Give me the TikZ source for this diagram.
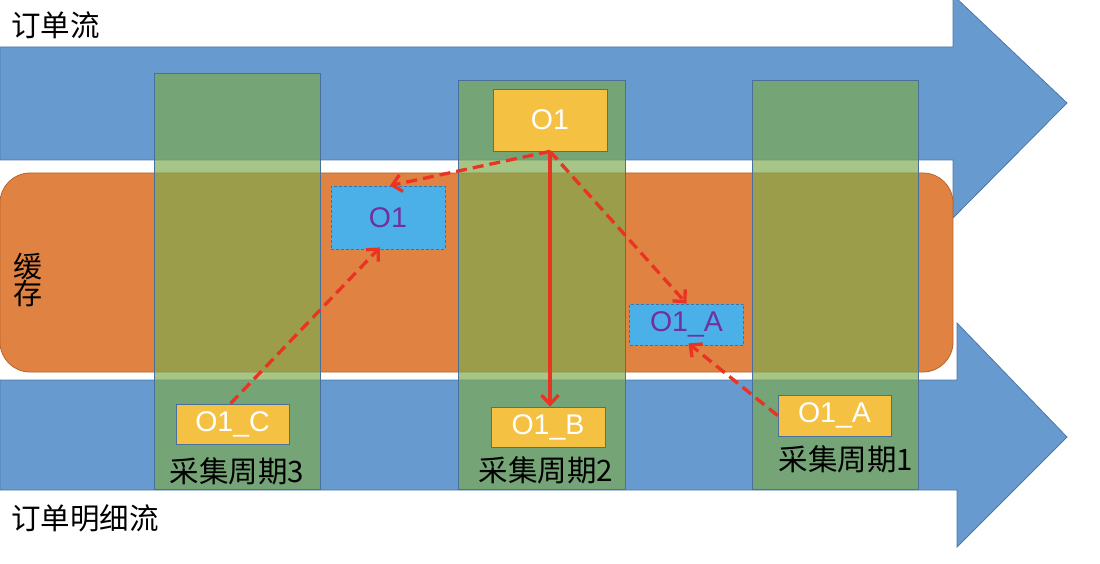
\documentclass[tikz,border=0pt]{standalone}
\usepackage{fontspec}
\setmainfont{Liberation Sans}
\newfontfamily\cjk{Noto Sans CJK SC}
\usetikzlibrary{arrows.meta}
\definecolor{flowblue}{RGB}{103,154,206}
\definecolor{flowedge}{RGB}{78,118,168}
\definecolor{cacheorange}{RGB}{224,130,66}
\definecolor{cacheedge}{RGB}{186,100,45}
\definecolor{colgreen}{RGB}{125,170,78}
\definecolor{coledge}{RGB}{72,112,155}
\definecolor{boxyellow}{RGB}{245,193,66}
\definecolor{boxblue}{RGB}{75,175,232}
\definecolor{txtpurple}{RGB}{112,48,160}
\definecolor{linkred}{RGB}{234,51,35}
\tikzset{
  flow/.style={fill=flowblue, draw=flowedge, line width=0.8pt},
  cachebg/.style={fill=cacheorange, draw=cacheedge, line width=0.8pt, rounded corners=30pt},
  column/.style={fill=colgreen, fill opacity=0.68, draw=coledge, line width=0.8pt},
  ybox/.style={rectangle, fill=boxyellow, draw=coledge, line width=0.8pt, text=white,
    minimum width=114pt, inner sep=0pt, font=\fontsize{28.5}{30}\selectfont},
  cbox/.style={rectangle, fill=boxblue, draw=coledge, line width=0.8pt, dash pattern=on 3pt off 2pt,
    text=txtpurple, minimum width=114pt, inner sep=0pt, font=\fontsize{28.5}{30}\selectfont},
  lbl/.style={inner sep=0pt, font=\cjk\fontsize{29.5}{31}\selectfont},
  link/.style={draw=linkred, line width=3.3pt, -{Straight Barb[length=9pt,width=17pt]}},
  dlink/.style={link, dash pattern=on 11pt off 6pt},
}
\begin{document}
\begin{tikzpicture}[x=1pt,y=-1pt]
\useasboundingbox (0,0) rectangle (1100,564);
% flows
\path[flow] (0,47) -- (953,47) -- (953,-5) -- (1067,103) -- (953,218) -- (953,160) -- (0,160) -- cycle;
\path[flow] (0,380) -- (957,380) -- (957,323) -- (1067,437) -- (957,547) -- (957,490) -- (0,490) -- cycle;
% cache
\path[cachebg] (0,173) rectangle (953,372);
% columns
\path[column] (154,73) rectangle (320,489);
\path[column] (458,80) rectangle (625,489);
\path[column] (752,80) rectangle (918,489);
% boxes
\node[ybox, minimum height=62pt] (o1) at (550,120) {O1};
\node[cbox, minimum height=63pt] (c1) at (388,217.5) {O1};
\node[cbox, minimum height=41pt] (ca) at (686.5,324.5) {O1\_A};
\node[ybox, minimum height=40pt, minimum width=113pt] (oc) at (232.5,424) {O1\_C};
\node[ybox, minimum height=40pt] (ob) at (548,427) {O1\_B};
\node[ybox, minimum height=41pt, minimum width=113pt] (oa) at (834.5,415.5) {O1\_A};
% labels
\node[lbl, anchor=base] (l3) at (237,482) {采集周期3};
\node[lbl, anchor=base] (l2) at (546,481) {采集周期2};
\node[lbl, anchor=base] (l1) at (846,470) {采集周期1};
\node[lbl, anchor=base west] (t1) at (11,37) {订单流};
\node[lbl, anchor=base west] (t2) at (11,529) {订单明细流};
\node[lbl, align=center, font=\cjk\fontsize{29}{27}\selectfont] (t3) at (28,280) {缓\\存};
% links
\draw[dlink] (o1.south) -- ([xshift=2pt]c1.north);
\draw[link] (o1.south) -- (o1.south |- ob.north);
\draw[dlink] (o1.south) -- (ca.north);
\draw[dlink] ([xshift=-2pt]oc.north) -- ([xshift=-8pt,yshift=2pt]c1.south);
\draw[dlink] (oa.west) -- ([xshift=2pt,yshift=2pt]ca.south);
\end{tikzpicture}
\end{document}
